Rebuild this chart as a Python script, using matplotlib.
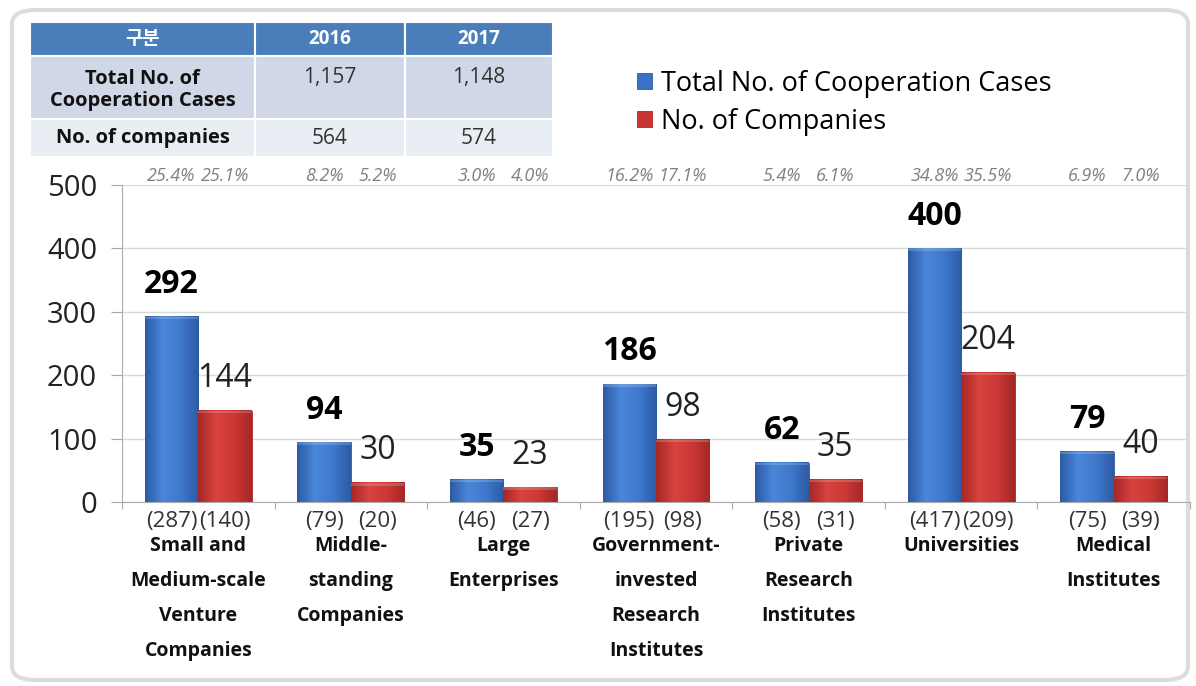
import numpy as np
import matplotlib.pyplot as plt
from matplotlib.patches import Rectangle, FancyBboxPatch
from matplotlib.colors import LinearSegmentedColormap
from matplotlib.transforms import blended_transform_factory

plt.rcParams['font.family'] = ['Open Sans', 'Noto Sans CJK KR', 'DejaVu Sans']

categories = [
    "Small and\nMedium-scale\nVenture\nCompanies",
    "Middle-\nstanding\nCompanies",
    "Large\nEnterprises",
    "Government-\ninvested\nResearch\nInstitutes",
    "Private\nResearch\nInstitutes",
    "Universities",
    "Medical\nInstitutes",
]
cases_2017 = [292, 94, 35, 186, 62, 400, 79]
companies_2017 = [144, 30, 23, 98, 35, 204, 40]
cases_2016 = [287, 79, 46, 195, 58, 417, 75]
companies_2016 = [140, 20, 27, 98, 31, 209, 39]
cases_share = ["25.4%", "8.2%", "3.0%", "16.2%", "5.4%", "34.8%", "6.9%"]
companies_share = ["25.1%", "5.2%", "4.0%", "17.1%", "6.1%", "35.5%", "7.0%"]

table_header = ["구분", "2016", "2017"]
table_rows = [
    ["Total No. of\nCooperation Cases", "1,157", "1,148"],
    ["No. of companies", "564", "574"],
]

W, H = 1196, 686
fx = lambda px: px / W
fy = lambda py: 1 - py / H

BLUE = "#3b72c8"
RED = "#c83634"
blue_grad = LinearSegmentedColormap.from_list(
    "bg", ["#2c5ba6", "#4a86da", "#3f79cc", "#2c5ba6"])
red_grad = LinearSegmentedColormap.from_list(
    "rg", ["#a52826", "#d8423f", "#cc3835", "#a52826"])

fig = plt.figure(figsize=(W / 100, H / 100), dpi=100)
fig.patch.set_facecolor("white")

# rounded frame around everything
frame = FancyBboxPatch((fx(12), fy(680)), fx(1176), fy(10) - fy(680),
                       boxstyle="round,pad=0,rounding_size=0.02",
                       transform=fig.transFigure, facecolor="none",
                       edgecolor="#dcdcdc", linewidth=3, zorder=-1)
fig.patches.append(frame)

ax = fig.add_axes([fx(122), fy(502), fx(1190) - fx(122), fy(185) - fy(502)])
ax.set_facecolor("none")

x = np.arange(len(categories))
bw = 0.35
b1 = ax.bar(x - bw / 2, cases_2017, bw, color=BLUE, edgecolor="#2d5aa5",
            linewidth=0.6, zorder=3, label="Total No. of Cooperation Cases")
b2 = ax.bar(x + bw / 2, companies_2017, bw, color=RED, edgecolor="#a82826",
            linewidth=0.6, zorder=3, label="No. of Companies")

# shaded fill on each bar for a rounded look
grad = np.linspace(0, 1, 64).reshape(1, -1)
for bars, cmap in [(b1, blue_grad), (b2, red_grad)]:
    for p in bars:
        x0, w, h = p.get_x(), p.get_width(), p.get_height()
        ax.imshow(grad, extent=[x0, x0 + w, 0, h], aspect="auto", cmap=cmap,
                  zorder=3.5, interpolation="bicubic")
        # light bevel on the top edge
        ax.add_patch(Rectangle((x0, h - 4), w, 4, facecolor="white",
                               alpha=0.18, linewidth=0, zorder=3.6))

ax.set_xlim(-0.5, len(categories) - 0.5)
ax.set_ylim(0, 500)
ax.set_yticks(range(0, 501, 100))
ax.tick_params(axis="y", labelsize=21, length=8, color="#aaaaaa", pad=10,
               labelcolor="#222222")
ax.set_xticks(np.arange(-0.5, len(categories), 1))
ax.set_xticklabels([])
ax.tick_params(axis="x", length=5, color="#aaaaaa")
ax.grid(axis="y", color="#dadada", linewidth=1, zorder=0)
for s in ["top", "right"]:
    ax.spines[s].set_visible(False)
for s in ["left", "bottom"]:
    ax.spines[s].set_color("#aaaaaa")

# value labels
for xi, v in zip(x - bw / 2, cases_2017):
    ax.annotate(str(v), (xi, v), xytext=(0, 17), textcoords="offset points",
                ha="center", va="baseline", fontsize=23, fontweight="bold")
for xi, v in zip(x + bw / 2, companies_2017):
    ax.annotate(str(v), (xi, v), xytext=(0, 17), textcoords="offset points",
                ha="center", va="baseline", fontsize=23, color="#222222")

tr = blended_transform_factory(ax.transData, fig.transFigure)
for i in range(len(categories)):
    # shares above the plot
    ax.text(x[i] - bw / 2, fy(176), cases_share[i], transform=tr, ha="center",
            va="center", fontsize=13, style="italic", color="#808080")
    ax.text(x[i] + bw / 2, fy(176), companies_share[i], transform=tr, ha="center",
            va="center", fontsize=13, style="italic", color="#808080")
    # 2016 figures below the axis
    ax.text(x[i] - bw / 2, fy(521), f"({cases_2016[i]})", transform=tr,
            ha="center", va="center", fontsize=16, color="#333333")
    ax.text(x[i] + bw / 2, fy(521), f"({companies_2016[i]})", transform=tr,
            ha="center", va="center", fontsize=16, color="#333333")
    ax.text(x[i], fy(536), categories[i], transform=tr, ha="center", va="top",
            fontsize=14, fontweight="bold", linespacing=2.0, color="#111111")

# summary table
col_x = [30, 255, 405, 553]
row_y = [22, 56, 119, 157]
row_colors = ["#4a7ebb", "#d0d8e8", "#e9edf4"]
for r in range(3):
    for c in range(3):
        rect = Rectangle((fx(col_x[c]), fy(row_y[r + 1])),
                         fx(col_x[c + 1]) - fx(col_x[c]),
                         fy(row_y[r]) - fy(row_y[r + 1]),
                         transform=fig.transFigure, facecolor=row_colors[r],
                         edgecolor="white", linewidth=1.5)
        fig.patches.append(rect)
for c, t in enumerate(table_header):
    fig.text(fx((col_x[c] + col_x[c + 1]) / 2), fy(39), t, ha="center",
             va="center", color="white", fontsize=13.5, fontweight="bold")
label_y = [90, 138]
for r, row in enumerate(table_rows):
    for c, t in enumerate(row):
        cx = fx((col_x[c] + col_x[c + 1]) / 2)
        if c == 0:
            fig.text(cx, fy(label_y[r]), t, ha="center",
                     va="center", fontsize=14.5, fontweight="bold",
                     linespacing=1.15, color="#111111")
        else:
            cy = 78 if r == 0 else 138
            fig.text(cx, fy(cy), t, ha="center", va="center", fontsize=15,
                     color="#333333")

fig.legend(handles=[b1, b2], loc="upper left",
           bbox_to_anchor=(fx(626), fy(59)), frameon=False, fontsize=19.5,
           handlelength=0.55, handleheight=0.55, handletextpad=0.35,
           labelspacing=0.36, borderaxespad=0)

fig.savefig("out.png", dpi=100)
